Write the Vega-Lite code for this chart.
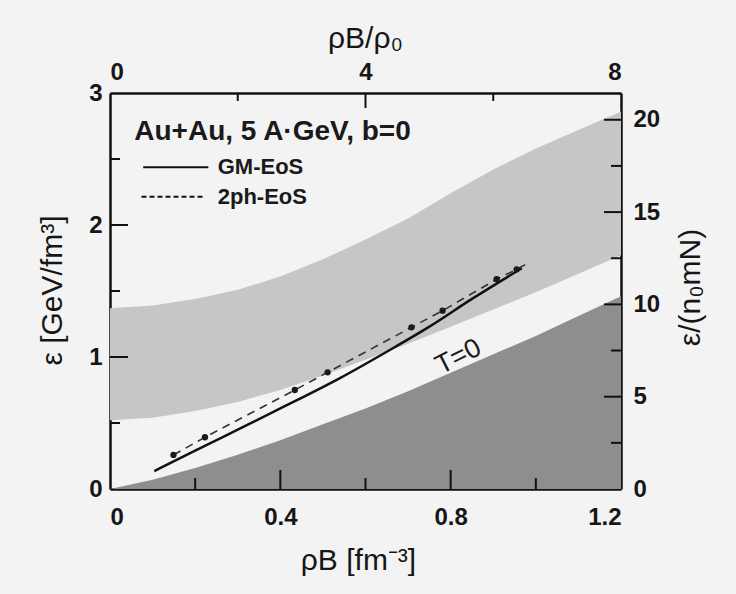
{
  "$schema": "https://vega.github.io/schema/vega-lite/v6.json",
  "width": 511,
  "height": 396,
  "autosize": {"type": "none"},
  "padding": {"left": 110, "top": 93, "right": 115, "bottom": 105},
  "background": "#f3f3f3",
  "config": {
    "view": {"stroke": null},
    "font": "Liberation Sans",
    "axis": {
      "grid": false,
      "zindex": 2,
      "domainColor": "#111111",
      "domainWidth": 2.5,
      "labelFont": "Liberation Sans",
      "labelFontSize": 24,
      "labelFontWeight": "bold",
      "labelColor": "#161616",
      "titleFont": "Liberation Sans",
      "titleFontSize": 30,
      "titleFontWeight": "normal",
      "titleColor": "#161616"
    }
  },
  "datasets": {
    "dark": [
      {"rho": 0.0, "eps": 0.0}, {"rho": 0.1, "eps": 0.07}, {"rho": 0.2, "eps": 0.16},
      {"rho": 0.3, "eps": 0.26}, {"rho": 0.4, "eps": 0.37}, {"rho": 0.5, "eps": 0.49},
      {"rho": 0.6, "eps": 0.61}, {"rho": 0.7, "eps": 0.74}, {"rho": 0.8, "eps": 0.88},
      {"rho": 0.9, "eps": 1.02}, {"rho": 1.0, "eps": 1.16}, {"rho": 1.1, "eps": 1.31},
      {"rho": 1.2, "eps": 1.46}
    ],
    "band": [
      {"rho": 0.0, "eps": 1.37, "eps2": 0.52}, {"rho": 0.1, "eps": 1.39, "eps2": 0.54},
      {"rho": 0.2, "eps": 1.44, "eps2": 0.59}, {"rho": 0.3, "eps": 1.51, "eps2": 0.66},
      {"rho": 0.4, "eps": 1.61, "eps2": 0.75}, {"rho": 0.5, "eps": 1.74, "eps2": 0.86},
      {"rho": 0.6, "eps": 1.89, "eps2": 0.98}, {"rho": 0.7, "eps": 2.05, "eps2": 1.1},
      {"rho": 0.8, "eps": 2.24, "eps2": 1.23}, {"rho": 0.9, "eps": 2.42, "eps2": 1.36},
      {"rho": 1.0, "eps": 2.58, "eps2": 1.49}, {"rho": 1.1, "eps": 2.72, "eps2": 1.63},
      {"rho": 1.2, "eps": 2.86, "eps2": 1.77}
    ],
    "gm": [
      {"rho": 0.104, "eps": 0.136}, {"rho": 0.2, "eps": 0.29}, {"rho": 0.3, "eps": 0.45},
      {"rho": 0.4, "eps": 0.61}, {"rho": 0.54, "eps": 0.84}, {"rho": 0.65, "eps": 1.04},
      {"rho": 0.75, "eps": 1.23}, {"rho": 0.85, "eps": 1.44}, {"rho": 0.967, "eps": 1.672}
    ],
    "twoph": [
      {"rho": 0.149, "eps": 0.258}, {"rho": 0.223, "eps": 0.392}, {"rho": 0.434, "eps": 0.75},
      {"rho": 0.511, "eps": 0.884}, {"rho": 0.708, "eps": 1.225}, {"rho": 0.781, "eps": 1.351},
      {"rho": 0.908, "eps": 1.589}, {"rho": 0.955, "eps": 1.664}, {"rho": 0.975, "eps": 1.7}
    ],
    "dots": [
      {"rho": 0.149, "eps": 0.258}, {"rho": 0.223, "eps": 0.392}, {"rho": 0.434, "eps": 0.75},
      {"rho": 0.511, "eps": 0.884}, {"rho": 0.708, "eps": 1.225}, {"rho": 0.781, "eps": 1.351},
      {"rho": 0.908, "eps": 1.589}, {"rho": 0.955, "eps": 1.664}
    ],
    "legend": [
      {"rho": 0.078, "rho2": 0.231, "eps": 2.437, "style": "solid"},
      {"rho": 0.074, "rho2": 0.219, "eps": 2.214, "style": "dashed"}
    ],
    "labels": [
      {"rho": 0.253, "eps": 2.437, "label": "GM-EoS"},
      {"rho": 0.253, "eps": 2.214, "label": "2ph-EoS"}
    ],
    "heading": [
      {"rho": 0.057, "eps": 2.644, "label": "Au+Au, 5 A·GeV, b=0"}
    ],
    "tlabel": [
      {"rho": 0.818, "eps": 1.0, "label": "T=0"}
    ],
    "xticks": [
      {"v": 0.2, "major": 0}, {"v": 0.4, "major": 1}, {"v": 0.6, "major": 0},
      {"v": 0.8, "major": 1}, {"v": 1.0, "major": 0}
    ],
    "yticks": [
      {"v": 0.5, "major": 0}, {"v": 1, "major": 1}, {"v": 1.5, "major": 0},
      {"v": 2, "major": 1}, {"v": 2.5, "major": 0}
    ],
    "topticks": [
      {"v": 2, "major": 0}, {"v": 4, "major": 1}, {"v": 6, "major": 0}
    ],
    "rightticks": [
      {"v": 2.5, "major": 0}, {"v": 5, "major": 1}, {"v": 7.5, "major": 0},
      {"v": 10, "major": 1}, {"v": 12.5, "major": 0}, {"v": 15, "major": 1},
      {"v": 17.5, "major": 0}, {"v": 20, "major": 1}
    ],
    "corner": [{"a": 0, "b": 0}]
  },
  "layer": [
    {
      "layer": [
        {
          "data": {"name": "dark"},
          "mark": {"type": "area", "color": "#8e8e8e", "opacity": 1},
          "encoding": {
            "x": {
              "field": "rho", "type": "quantitative",
              "scale": {"domain": [0, 1.2], "nice": false, "zero": false},
              "axis": {
                "orient": "bottom",
                "values": [0, 0.4, 0.8, 1.2],
                "format": "~g",
                "ticks": false,
                "tickSize": 0,
                "labelPadding": 28,
                "labelBaseline": "middle",
                "title": "ρB [fm⁻³]",
                "titleX": 248,
                "titleY": 71,
                "titleBaseline": "middle",
                "titleAlign": "center"
              }
            },
            "y": {
              "field": "eps", "type": "quantitative",
              "scale": {"domain": [0, 3], "nice": false, "zero": false},
              "axis": {
                "orient": "left",
                "values": [0, 1, 2, 3],
                "format": "~g",
                "ticks": false,
                "tickSize": 0,
                "labelPadding": 8,
                "title": "ε [GeV/fm³]",
                "titleX": -58,
                "titleY": 197,
                "titleAngle": -90,
                "titleBaseline": "middle",
                "titleAlign": "center"
              }
            },
            "y2": {"datum": 0}
          }
        },
        {
          "data": {"name": "band"},
          "mark": {"type": "area", "color": "#c6c6c6", "opacity": 1},
          "encoding": {
            "x": {"field": "rho", "type": "quantitative"},
            "y": {"field": "eps", "type": "quantitative"},
            "y2": {"field": "eps2"}
          }
        },
        {
          "data": {"name": "gm"},
          "mark": {"type": "line", "color": "#111111", "strokeWidth": 2.5, "interpolate": "monotone"},
          "encoding": {
            "x": {"field": "rho", "type": "quantitative"},
            "y": {"field": "eps", "type": "quantitative"}
          }
        },
        {
          "data": {"name": "twoph"},
          "mark": {"type": "line", "color": "#333333", "strokeWidth": 1.6, "strokeDash": [8, 6]},
          "encoding": {
            "x": {"field": "rho", "type": "quantitative"},
            "y": {"field": "eps", "type": "quantitative"}
          }
        },
        {
          "data": {"name": "dots"},
          "mark": {"type": "point", "filled": true, "color": "#1a1a1a", "size": 40, "opacity": 1},
          "encoding": {
            "x": {"field": "rho", "type": "quantitative"},
            "y": {"field": "eps", "type": "quantitative"}
          }
        },
        {
          "data": {"name": "legend"},
          "mark": {"type": "rule", "color": "#111111", "strokeWidth": 2},
          "encoding": {
            "x": {"field": "rho", "type": "quantitative"},
            "x2": {"field": "rho2"},
            "y": {"field": "eps", "type": "quantitative"},
            "strokeDash": {
              "field": "style", "type": "nominal",
              "scale": {"domain": ["solid", "dashed"], "range": [[1, 0], [5, 3]]},
              "legend": null
            }
          }
        },
        {
          "data": {"name": "labels"},
          "mark": {"type": "text", "align": "left", "baseline": "middle", "fontSize": 22, "fontWeight": "bold", "color": "#1a1a1a", "font": "Liberation Sans"},
          "encoding": {
            "x": {"field": "rho", "type": "quantitative"},
            "y": {"field": "eps", "type": "quantitative"},
            "text": {"field": "label"}
          }
        },
        {
          "data": {"name": "heading"},
          "mark": {"type": "text", "align": "left", "baseline": "alphabetic", "fontSize": 28, "fontWeight": "bold", "color": "#1a1a1a", "font": "Liberation Sans"},
          "encoding": {
            "x": {"field": "rho", "type": "quantitative"},
            "y": {"field": "eps", "type": "quantitative"},
            "text": {"field": "label"}
          }
        },
        {
          "data": {"name": "tlabel"},
          "mark": {"type": "text", "align": "center", "baseline": "middle", "fontSize": 27, "fontWeight": 500, "angle": -27, "color": "#1a1a1a", "font": "Liberation Sans"},
          "encoding": {
            "x": {"field": "rho", "type": "quantitative"},
            "y": {"field": "eps", "type": "quantitative"},
            "text": {"field": "label"}
          }
        },
        {
          "data": {"name": "xticks"},
          "transform": [{"filter": "datum.major == 1"}],
          "mark": {"type": "rule", "color": "#111111", "strokeWidth": 2},
          "encoding": {
            "x": {"field": "v", "type": "quantitative"},
            "y": {"datum": 0, "type": "quantitative"},
            "y2": {"datum": 0.144}
          }
        },
        {
          "data": {"name": "xticks"},
          "transform": [{"filter": "datum.major == 0"}],
          "mark": {"type": "rule", "color": "#111111", "strokeWidth": 2},
          "encoding": {
            "x": {"field": "v", "type": "quantitative"},
            "y": {"datum": 0, "type": "quantitative"},
            "y2": {"datum": 0.083}
          }
        },
        {
          "data": {"name": "yticks"},
          "transform": [{"filter": "datum.major == 1"}],
          "mark": {"type": "rule", "color": "#111111", "strokeWidth": 2},
          "encoding": {
            "y": {"field": "v", "type": "quantitative"},
            "x": {"datum": 0, "type": "quantitative"},
            "x2": {"datum": 0.0423}
          }
        },
        {
          "data": {"name": "yticks"},
          "transform": [{"filter": "datum.major == 0"}],
          "mark": {"type": "rule", "color": "#111111", "strokeWidth": 2},
          "encoding": {
            "y": {"field": "v", "type": "quantitative"},
            "x": {"datum": 0, "type": "quantitative"},
            "x2": {"datum": 0.0235}
          }
        }
      ]
    },
    {
      "layer": [
        {
          "data": {"name": "corner"},
          "mark": {"type": "point", "opacity": 0},
          "encoding": {
            "x": {
              "field": "a", "type": "quantitative",
              "scale": {"domain": [0, 8], "nice": false, "zero": false},
              "axis": {
                "orient": "top",
                "values": [0, 4, 8],
                "format": "~g",
                "ticks": false,
                "tickSize": 0,
                "labelPadding": 21,
                "labelBaseline": "middle",
                "title": "ρB/ρ₀",
                "titleX": 255,
                "titleY": -55,
                "titleBaseline": "middle",
                "titleAlign": "center"
              }
            },
            "y": {
              "field": "b", "type": "quantitative",
              "scale": {"domain": [0, 21.45], "nice": false, "zero": false},
              "axis": {
                "orient": "right",
                "values": [0, 5, 10, 15, 20],
                "format": "~g",
                "ticks": false,
                "tickSize": 0,
                "labelPadding": 12,
                "title": "ε/(n₀mN)",
                "titleX": 69,
                "titleY": 194,
                "titleAngle": -90,
                "titleBaseline": "middle",
                "titleAlign": "center"
              }
            }
          }
        },
        {
          "data": {"name": "topticks"},
          "transform": [{"filter": "datum.major == 1"}],
          "mark": {"type": "rule", "color": "#111111", "strokeWidth": 2},
          "encoding": {
            "x": {"field": "v", "type": "quantitative"},
            "y": {"datum": 21.45, "type": "quantitative"},
            "y2": {"datum": 20.64}
          }
        },
        {
          "data": {"name": "topticks"},
          "transform": [{"filter": "datum.major == 0"}],
          "mark": {"type": "rule", "color": "#111111", "strokeWidth": 2},
          "encoding": {
            "x": {"field": "v", "type": "quantitative"},
            "y": {"datum": 21.45, "type": "quantitative"},
            "y2": {"datum": 21.02}
          }
        },
        {
          "data": {"name": "rightticks"},
          "transform": [{"filter": "datum.major == 1"}],
          "mark": {"type": "rule", "color": "#111111", "strokeWidth": 2},
          "encoding": {
            "y": {"field": "v", "type": "quantitative"},
            "x": {"datum": 8, "type": "quantitative"},
            "x2": {"datum": 7.734}
          }
        },
        {
          "data": {"name": "rightticks"},
          "transform": [{"filter": "datum.major == 0"}],
          "mark": {"type": "rule", "color": "#111111", "strokeWidth": 2},
          "encoding": {
            "y": {"field": "v", "type": "quantitative"},
            "x": {"datum": 8, "type": "quantitative"},
            "x2": {"datum": 7.843}
          }
        }
      ]
    }
  ],
  "resolve": {"scale": {"x": "independent", "y": "independent"}}
}
